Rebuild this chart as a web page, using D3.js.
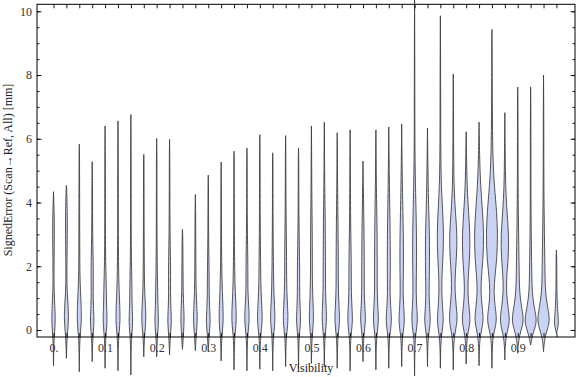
<!DOCTYPE html>
<html>
<head>
<meta charset="utf-8">
<script src="https://cdn.jsdelivr.net/npm/d3@7"></script>
<style>
  body { margin: 0; background: #fff; }
  text { font-family: "Liberation Serif", "Times New Roman", serif; }
</style>
</head>
<body>
<div id="chart"></div>
<script>
const svgWidth = 576, svgHeight = 377;

// violin positions (visibility bins)
const visibility = [0, 0.025, 0.05, 0.075, 0.1, 0.125, 0.15, 0.175, 0.2, 0.225,
  0.25, 0.275, 0.3, 0.325, 0.35, 0.375, 0.4, 0.425, 0.45, 0.475,
  0.5, 0.525, 0.55, 0.575, 0.6, 0.625, 0.65, 0.675, 0.7, 0.725,
  0.75, 0.775, 0.8, 0.825, 0.85, 0.875, 0.9, 0.925, 0.95, 0.975];

const maxError = [4.34, 4.54, 5.83, 5.28, 6.40, 6.56, 6.76, 5.51, 6.01, 5.98,
  3.16, 4.25, 4.86, 5.27, 5.61, 5.71, 6.13, 5.56, 6.10, 5.71,
  6.40, 6.52, 6.19, 6.28, 5.30, 6.28, 6.37, 6.46, 10.6, 6.34,
  9.86, 8.03, 6.22, 6.52, 9.43, 6.82, 7.62, 7.63, 8.00, 2.51];

const minError = [-1.12, -0.89, -1.31, -0.99, -1.20, -1.28, -1.41, -0.84, -0.84, -0.78,
  -0.61, -0.65, -0.68, -0.97, -1.25, -1.28, -1.23, -1.28, -1.15, -1.20,
  -1.05, -1.15, -1.20, -1.29, -0.99, -1.25, -1.20, -1.15, -1.44, -1.15,
  -1.20, -1.25, -1.07, -1.12, -1.20, -0.94, -0.73, -0.47, -0.68, -0.10];

// error levels where the density is sampled
const levels = [-0.5, -0.15, 0.15, 0.4, 0.75, 1.2, 1.7, 2.3, 3.0, 3.7, 4.5, 5.5, 7.0, 8.5];

// relative density (0-10) of each violin at the levels above
const density = [
  [0.5, 1.5, 2.6, 2.9, 2.2, 1.0, 0.8, 1.0, 1.5, 1.2, 0.4, 0.4],
  [0.5, 1.5, 3.0, 3.5, 3.0, 1.2, 0.8, 1.0, 1.5, 1.5, 0.4, 0.4],
  [0.5, 1.5, 3.0, 3.5, 3.2, 2.0, 1.0, 0.8, 0.7, 0.6, 0.5, 0.4],
  [0.5, 1.5, 2.8, 3.0, 2.0, 1.5, 2.0, 1.5, 0.8, 0.6, 0.5, 0.4],
  [0.5, 1.5, 3.0, 3.3, 2.5, 2.2, 1.5, 0.8, 0.6, 0.5, 0.5, 0.4],
  [0.5, 1.5, 3.0, 3.5, 3.0, 2.0, 1.2, 0.8, 0.6, 0.5, 0.5, 0.4],
  [0.5, 1.5, 2.8, 3.0, 2.0, 1.8, 1.5, 0.8, 0.6, 0.5, 0.5, 0.4],
  [0.5, 1.5, 3.0, 3.5, 2.8, 1.5, 1.0, 0.8, 0.6, 0.5, 0.5, 0.4],
  [0.5, 1.5, 2.8, 3.0, 2.0, 1.8, 1.2, 0.8, 0.6, 0.5, 0.5, 0.4],
  [0.5, 1.5, 2.8, 3.0, 2.0, 1.5, 1.8, 1.5, 0.8, 0.6, 0.5, 0.4],
  [0.5, 1.5, 2.5, 2.8, 2.0, 1.2, 1.0, 0.8, 0.5, 0.4],
  [0.5, 1.5, 2.8, 3.2, 2.5, 1.3, 1.0, 0.8, 0.6, 0.5, 0.4],
  [0.5, 1.5, 3.0, 3.2, 2.0, 1.5, 1.5, 1.0, 0.6, 0.5, 0.4],
  [0.5, 1.5, 3.0, 3.5, 3.0, 2.0, 1.3, 0.8, 0.6, 0.5, 0.4],
  [0.5, 1.5, 3.2, 3.8, 3.3, 2.0, 1.3, 0.9, 0.6, 0.5, 0.4, 0.4],
  [0.5, 1.5, 3.2, 3.8, 3.0, 1.5, 1.6, 1.4, 0.8, 0.5, 0.4, 0.4],
  [0.5, 1.6, 3.5, 4.0, 3.3, 2.0, 1.5, 1.2, 0.8, 0.6, 0.5, 0.4],
  [0.5, 1.5, 3.2, 3.8, 3.0, 1.8, 1.4, 1.0, 0.7, 0.5, 0.4, 0.4],
  [0.5, 1.6, 3.5, 4.0, 3.2, 2.0, 1.6, 1.5, 1.2, 0.7, 0.5, 0.4],
  [0.5, 1.5, 3.0, 3.5, 2.5, 1.8, 2.0, 1.6, 1.0, 0.6, 0.5, 0.4],
  [0.5, 1.5, 3.0, 3.5, 3.0, 2.0, 1.5, 1.5, 1.4, 1.0, 0.6, 0.4],
  [0.5, 1.5, 3.2, 3.8, 3.0, 2.0, 2.0, 1.8, 1.6, 1.4, 0.7, 0.4],
  [0.5, 1.6, 3.5, 4.0, 3.0, 2.0, 1.8, 1.8, 1.5, 1.2, 0.6, 0.4],
  [0.5, 1.6, 3.5, 4.0, 3.0, 2.0, 2.0, 1.8, 1.2, 0.8, 0.5, 0.4],
  [0.5, 1.6, 3.5, 4.2, 3.0, 2.0, 2.2, 2.0, 1.8, 1.2, 0.6, 0.4],
  [0.5, 1.7, 3.8, 4.3, 3.2, 2.2, 2.2, 2.2, 2.0, 1.5, 0.8, 0.4],
  [0.5, 1.7, 4.0, 4.5, 3.0, 2.0, 2.5, 2.5, 2.3, 1.8, 1.0, 0.5],
  [0.5, 1.8, 4.2, 4.6, 3.2, 2.3, 2.8, 3.0, 2.8, 2.0, 1.2, 0.5],
  [0.5, 1.8, 4.2, 4.8, 3.5, 2.5, 3.0, 3.3, 3.2, 2.5, 1.5, 0.6, 0.4, 0.4],
  [0.5, 1.8, 4.3, 4.8, 3.3, 2.5, 3.2, 3.5, 3.3, 2.2, 1.2, 0.5],
  [0.5, 2.0, 4.5, 5.0, 3.5, 2.2, 2.5, 4.5, 5.5, 4.0, 1.5, 0.7, 0.5, 0.4],
  [0.5, 2.2, 5.5, 6.7, 5.0, 2.8, 3.0, 5.5, 6.5, 3.5, 1.2, 0.6, 0.4, 0.4],
  [0.5, 2.2, 5.8, 6.7, 4.5, 2.6, 3.5, 6.0, 6.5, 4.0, 1.5, 0.6],
  [0.5, 2.3, 6.0, 7.2, 5.0, 2.8, 4.0, 7.0, 7.8, 6.0, 2.5, 0.8],
  [0.5, 2.4, 6.5, 7.8, 5.0, 3.0, 5.0, 8.5, 9.5, 8.0, 4.0, 1.2, 0.6, 0.4],
  [0.5, 2.5, 7.0, 7.8, 5.0, 2.5, 3.0, 6.0, 6.5, 3.5, 1.2, 0.6],
  [0.5, 3.0, 8.5, 9.5, 6.0, 3.0, 2.5, 2.0, 1.5, 1.0, 0.6, 0.5, 0.4],
  [0.5, 3.0, 9.0, 9.5, 5.5, 2.5, 2.0, 1.5, 1.0, 0.7, 0.5, 0.5, 0.4],
  [0.5, 3.0, 9.0, 10, 6.5, 3.0, 2.5, 2.0, 1.5, 1.0, 0.6, 0.5, 0.4],
  [0.5, 1.5, 3.5, 3.0, 1.5, 0.8, 0.6, 0.5]
];

const xTickValues = [0, 0.1, 0.2, 0.3, 0.4, 0.5, 0.6, 0.7, 0.8, 0.9];
const xTickLabels = ['0.', '0.1', '0.2', '0.3', '0.4', '0.5', '0.6', '0.7', '0.8', '0.9'];
const yTickValues = [0, 2, 4, 6, 8, 10];
const yMinorTicks = d3.range(0, 10.01, 0.5);

const xDomain = [-0.032, 1.011];
const yDomain = [-0.22, 10.22];

const frame = { left: 37, right: 575, top: 4.3, bottom: 337 };

const svg = d3.select('#chart')
  .append('svg')
  .attr('width', svgWidth)
  .attr('height', svgHeight)
  .style('display', 'block');

const x = d3.scaleLinear().domain(xDomain).range([frame.left, frame.right]);
const y = d3.scaleLinear().domain(yDomain).range([frame.bottom, frame.top]);
const w = d3.scaleLinear().domain([0, 10]).range([0, 6]);

// violins
const violinGroup = svg.append('g').attr('class', 'violins');

visibility.forEach((vis, i) => {
  const cx = x(vis);
  const pts = [{ v: minError[i], d: 0 }];
  density[i].forEach((d, k) => {
    const lv = levels[k];
    if (lv > minError[i] && lv < maxError[i]) pts.push({ v: lv, d: d });
  });
  pts.push({ v: maxError[i], d: 0 });

  const area = d3.area()
    .curve(d3.curveBasis)
    .y(p => y(p.v))
    .x0(p => cx - w(p.d))
    .x1(p => cx + w(p.d));

  violinGroup.append('path')
    .attr('d', area(pts))
    .attr('fill', '#cbd3f5')
    .attr('stroke', '#3a3a3a')
    .attr('stroke-opacity', 0.85)
    .attr('stroke-width', 1);
});

// frame
svg.append('rect')
  .attr('x', frame.left)
  .attr('y', frame.top)
  .attr('width', frame.right - frame.left)
  .attr('height', frame.bottom - frame.top)
  .attr('fill', 'none')
  .attr('stroke', '#000')
  .attr('stroke-width', 1);

// bottom axis: ticks at each bin, labels every 0.1
const labelFor = v => {
  const k = xTickValues.findIndex(t => Math.abs(t - v) < 1e-9);
  return k >= 0 ? xTickLabels[k] : '';
};
svg.append('g')
  .attr('transform', `translate(0,${frame.bottom})`)
  .call(d3.axisBottom(x).tickValues(visibility).tickSizeInner(-4).tickSizeOuter(0)
    .tickPadding(6).tickFormat(labelFor));

svg.append('g')
  .attr('transform', `translate(0,${frame.top})`)
  .call(d3.axisTop(x).tickValues(visibility).tickSizeInner(-4).tickSizeOuter(0).tickFormat(''));

// left axis: minor ticks every 0.5, labels every 2
svg.append('g')
  .attr('transform', `translate(${frame.left},0)`)
  .call(d3.axisLeft(y).tickValues(yMinorTicks).tickSizeInner(-2.5).tickSizeOuter(0).tickFormat(''));
svg.append('g')
  .attr('transform', `translate(${frame.left},0)`)
  .call(d3.axisLeft(y).tickValues(yTickValues).tickSizeInner(-4.5).tickSizeOuter(0)
    .tickPadding(5).tickFormat(d3.format('d')));

svg.append('g')
  .attr('transform', `translate(${frame.right},0)`)
  .call(d3.axisRight(y).tickValues(yMinorTicks).tickSizeInner(-2.5).tickSizeOuter(0).tickFormat(''));
svg.append('g')
  .attr('transform', `translate(${frame.right},0)`)
  .call(d3.axisRight(y).tickValues(yTickValues).tickSizeInner(-4.5).tickSizeOuter(0).tickFormat(''));

svg.selectAll('.domain').remove();
svg.selectAll('.tick line').attr('stroke', '#000').attr('stroke-width', 0.9);
svg.selectAll('.tick text')
  .attr('fill', '#333')
  .style('font-family', '"Liberation Serif", "Times New Roman", serif')
  .style('font-size', '12px');

// titles
svg.append('text')
  .attr('x', (frame.left + frame.right) / 2 + 5)
  .attr('y', 372)
  .attr('text-anchor', 'middle')
  .attr('fill', '#222')
  .style('font-size', '12px')
  .text('Visibility');

svg.append('text')
  .attr('transform', 'rotate(-90)')
  .attr('x', -170)
  .attr('y', 11.5)
  .attr('text-anchor', 'middle')
  .attr('fill', '#222')
  .style('font-size', '12px')
  .text('SignedError (Scan\u2192Ref, All) [mm]');
</script>
</body>
</html>
